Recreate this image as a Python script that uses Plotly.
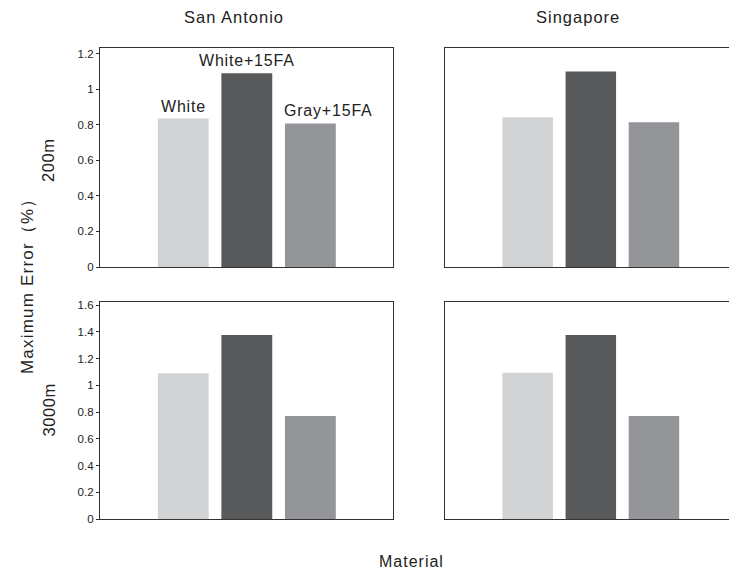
import plotly.graph_objects as go
from plotly.subplots import make_subplots

materials = ["White", "White+15FA", "Gray+15FA"]
sa_200 = [0.835, 1.09, 0.807]
sg_200 = [0.842, 1.10, 0.814]
sa_3000 = [1.09, 1.376, 0.771]
sg_3000 = [1.093, 1.376, 0.771]
colors = ["#d1d3d4", "#58595b", "#939598"]
tick_200 = [0, 0.2, 0.4, 0.6, 0.8, 1, 1.2]
tick_3000 = [0, 0.2, 0.4, 0.6, 0.8, 1, 1.2, 1.4, 1.6]

OFF = 8  # page body margin
W, H = 737 - OFF, 571 - OFF
L, R, T, B = 100 - OFF, 1, 48 - OFF, 52
pw, ph = W - L - R, H - T - B

def px(x):
    return (x - OFF - L) / pw

def py(y):
    return (H - B - (y - OFF)) / ph

fig = make_subplots(rows=2, cols=2, horizontal_spacing=0.08, vertical_spacing=0.07)

panels = [(1, 1, sa_200), (1, 2, sg_200), (2, 1, sa_3000), (2, 2, sg_3000)]
for r, c, vals in panels:
    fig.add_trace(go.Bar(x=materials, y=vals, marker=dict(color=colors, line=dict(width=0)),
                         showlegend=False, hoverinfo="x+y"), row=r, col=c)

FONT = "Liberation Sans, Arial, sans-serif"

def sp(t, ls=1):
    return f'<span style="letter-spacing:{ls}px">{t}</span>'

fig.update_layout(
    width=W, height=H,
    margin=dict(l=L, r=R, t=T, b=B),
    paper_bgcolor="white", plot_bgcolor="white",
    bargap=0.2,
    font=dict(family=FONT, color="#222"),
    xaxis=dict(domain=[0, px(393)]),
    xaxis2=dict(domain=[px(445), 1]),
    xaxis3=dict(domain=[0, px(393)]),
    xaxis4=dict(domain=[px(445), 1]),
    yaxis=dict(domain=[py(267), 1]),
    yaxis2=dict(domain=[py(267), 1]),
    yaxis3=dict(domain=[0, py(302)]),
    yaxis4=dict(domain=[0, py(302)]),
)

for i in range(1, 5):
    xa = "xaxis" if i == 1 else f"xaxis{i}"
    fig.layout[xa].update(range=[-1.31, 3.3], showticklabels=False, ticks="",
                          showline=True, linecolor="#333", linewidth=1.3, mirror=True,
                          showgrid=False, zeroline=False, fixedrange=True)

for i, (rng, tv, show) in enumerate([([0, 1.232], tick_200, True), ([0, 1.232], tick_200, False),
                                    ([0, 1.623], tick_3000, True), ([0, 1.623], tick_3000, False)], start=1):
    ya = "yaxis" if i == 1 else f"yaxis{i}"
    fig.layout[ya].update(range=rng, showline=True, linecolor="#333", linewidth=1.3, mirror=True,
                          showgrid=False, zeroline=False, fixedrange=True)
    if show:
        fig.layout[ya].update(tickvals=tv, ticktext=[f"{v:g}" for v in tv], ticks="outside",
                              ticklen=3, tickcolor="#333", tickwidth=1,
                              tickfont=dict(size=11.5, color="#222"))
    else:
        fig.layout[ya].update(showticklabels=False, ticks="")

ann = []
# bar labels in the top-left panel
shifts = [0, 0, 18]
yshifts = [2, 2, 3]
for m, v, xs, ys in zip(materials, sa_200, shifts, yshifts):
    ann.append(dict(x=m, y=v, xref="x", yref="y", text=sp(m, 0.8), showarrow=False,
                    yanchor="bottom", xanchor="center", xshift=xs, yshift=ys,
                    font=dict(size=16, color="#222")))
# column titles
ann.append(dict(x=px(233.5), y=py(17), xref="paper", yref="paper", text=sp("San Antonio"),
                showarrow=False, font=dict(size=16.5, color="#222"), xanchor="center", yanchor="middle"))
ann.append(dict(x=px(577.5), y=py(17), xref="paper", yref="paper", text=sp("Singapore"),
                showarrow=False, font=dict(size=16.5, color="#222"), xanchor="center", yanchor="middle"))
# row labels
ann.append(dict(x=px(48), y=py(160), xref="paper", yref="paper", text=sp("200m", 0.6),
                textangle=-90, showarrow=False, font=dict(size=16.5, color="#222"),
                xanchor="center", yanchor="middle"))
ann.append(dict(x=px(48), y=py(410.5), xref="paper", yref="paper", text=sp("3000m", 0.6),
                textangle=-90, showarrow=False, font=dict(size=16.5, color="#222"),
                xanchor="center", yanchor="middle"))
# overall axis titles
ann.append(dict(x=px(27), y=py(282), xref="paper", yref="paper", text=sp("Maximum Error（%）", 1.2),
                textangle=-90, showarrow=False, font=dict(size=17, color="#222"),
                xanchor="center", yanchor="middle"))
ann.append(dict(x=px(411), y=py(561), xref="paper", yref="paper", text=sp("Material"),
                showarrow=False, font=dict(size=16, color="#222"), xanchor="center", yanchor="middle"))

fig.update_layout(annotations=ann)
fig.write_html("out.html")
